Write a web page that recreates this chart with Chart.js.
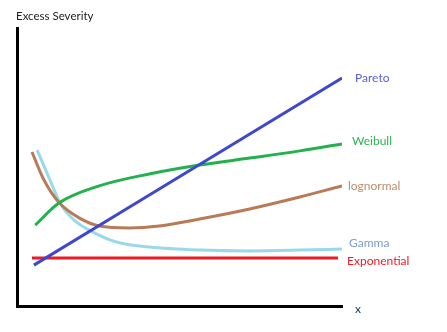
<!DOCTYPE html>
<html>
<head>
<meta charset="utf-8">
<script src="https://cdn.jsdelivr.net/npm/chart.js@4/dist/chart.umd.min.js"></script>
<style>
  html, body { margin: 0; padding: 0; background: #fff; }
  #wrap { width: 447px; height: 332px; }
</style>
</head>
<body>
<div id="wrap"><canvas id="myChart"></canvas></div>
<script>
// values (x: 0..10, severity: 0..10)
const paretoX = [0.52, 10];
const paretoY = [1.47, 8.2];
const weibullX = [0.56, 1.30, 2.53, 4.07, 5.62, 7.16, 8.70, 10];
const weibullY = [2.91, 3.71, 4.32, 4.75, 5.07, 5.32, 5.58, 5.83];
const lognormalX = [0.46, 0.83, 1.30, 1.91, 2.53, 3.46, 4.38, 5.62, 7.16, 8.70, 10];
const lognormalY = [5.54, 4.53, 3.71, 3.17, 2.88, 2.81, 2.88, 3.13, 3.49, 3.92, 4.32];
const gammaX = [0.62, 0.99, 1.36, 1.76, 2.22, 3.06, 4.07, 5.62, 7.16, 8.70, 10];
const gammaY = [5.61, 4.60, 3.63, 3.09, 2.73, 2.30, 2.12, 2.01, 1.98, 2.01, 2.05];
const expX = [0.46, 9.88];
const expY = [1.73, 1.73];

const toPoints = (xs, ys) => xs.map((x, i) => ({ x: x, y: ys[i] }));

// writes each curve's name at its right end, plus the axis captions
const endLabels = {
  id: 'endLabels',
  afterDatasetsDraw(chart) {
    const c = chart.ctx;
    const xs = chart.scales.x, ys = chart.scales.y;
    c.save();
    c.font = '12px Lato';
    c.textBaseline = 'middle';
    chart.data.datasets.forEach(ds => {
      const last = ds.data[ds.data.length - 1];
      c.fillStyle = ds.textColor;
      c.fillText(ds.label, xs.getPixelForValue(last.x) + ds.dx, ys.getPixelForValue(last.y) + ds.dy);
    });
    c.fillStyle = '#222';
    c.font = '11.5px Lato';
    c.fillText('Excess Severity', 16, 16);
    c.fillStyle = '#1f3864';
    c.font = '12px Lato';
    c.fillText('x', chart.chartArea.right + 13, chart.chartArea.bottom + 3);
    c.restore();
  }
};

const line = (label, xs, ys, color, textColor, dx, dy) => ({
  label, data: toPoints(xs, ys),
  borderColor: color, borderWidth: 3, pointRadius: 0,
  cubicInterpolationMode: 'monotone', fill: false,
  textColor, dx, dy
});

new Chart(document.getElementById('myChart'), {
  type: 'line',
  data: {
    datasets: [
      line('Pareto', paretoX, paretoY, '#3f48cc', '#5a5fd6', 13, 0),
      line('Weibull', weibullX, weibullY, '#22b14c', '#2bb550', 10, -3),
      line('lognormal', lognormalX, lognormalY, '#b97a57', '#c08a6a', 6, 0),
      line('Gamma', gammaX, gammaY, '#99d9ea', '#7e9ccc', 7, -6),
      line('Exponential', expX, expY, '#ed1c24', '#ed1c24', 9, 3)
    ]
  },
  plugins: [endLabels],
  options: {
    responsive: true,
    maintainAspectRatio: false,
    animation: false,
    layout: { padding: { left: 17, right: 105, top: 28, bottom: 26 } },
    plugins: { legend: { display: false }, tooltip: { enabled: false } },
    scales: {
      x: {
        type: 'linear', min: 0, max: 10,
        ticks: { display: false },
        grid: { display: false, drawTicks: false },
        border: { color: '#000', width: 3 }
      },
      y: {
        min: 0, max: 10,
        ticks: { display: false },
        grid: { display: false, drawTicks: false },
        border: { color: '#000', width: 3 }
      }
    }
  }
});
</script>
</body>
</html>
